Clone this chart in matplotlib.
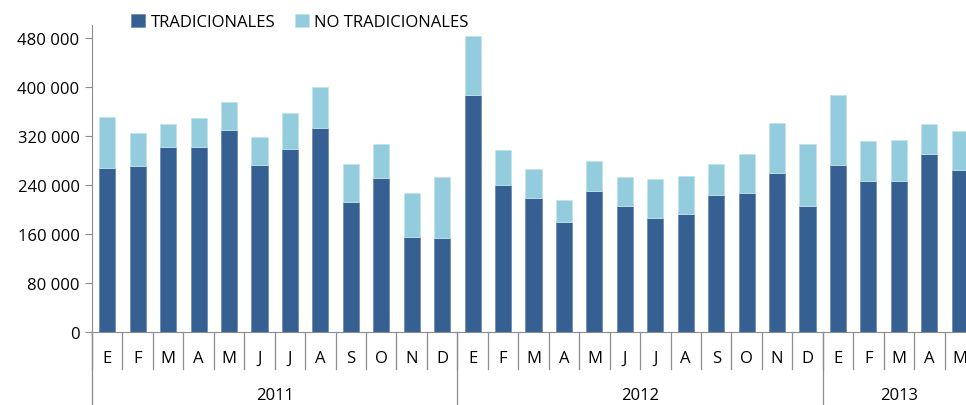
import matplotlib
matplotlib.use('Agg')
import matplotlib.pyplot as plt
import numpy as np

plt.rcParams['font.family'] = ['Open Sans', 'DejaVu Sans']

months = ['E', 'F', 'M', 'A', 'M', 'J', 'J', 'A', 'S', 'O', 'N', 'D',
          'E', 'F', 'M', 'A', 'M', 'J', 'J', 'A', 'S', 'O', 'N', 'D',
          'E', 'F', 'M', 'A', 'M']
years = ['2011', '2012', '2013']
year_len = [12, 12, 5]

tradicionales = [268000, 271500, 302000, 302000, 330000, 273000, 299000, 332500,
                 212800, 252000, 155000, 153500,
                 386400, 240000, 218800, 179000, 230700, 205200, 186100, 193200,
                 223700, 226400, 259600, 205200,
                 273200, 247100, 247100, 290100, 264000]
total = [351500, 325400, 339600, 349400, 375000, 318400, 358100, 400500,
         273700, 306400, 227000, 252500,
         483300, 297100, 266700, 215000, 278600, 252500, 249800, 254700,
         274300, 290600, 341800, 306900,
         386400, 311300, 313500, 339100, 327600]
no_tradicionales = [t - d for t, d in zip(total, tradicionales)]

dark = '#366092'
light = '#93CDDD'
grey = '#8c8c8c'
fs = 12

fig = plt.figure(figsize=(9.66, 4.06), dpi=100)
ax = fig.add_axes([92/966, (406-333)/406, 883/966, 307/406])

x = np.arange(len(months))
w = 0.53
ax.bar(x, tradicionales, w, color=dark, edgecolor='#6f8db3', linewidth=0.6, label='TRADICIONALES')
ax.bar(x, no_tradicionales, w, bottom=tradicionales, color=light, edgecolor='#c3e3ec',
       linewidth=0.6, label='NO TRADICIONALES')

ax.set_xlim(-0.5, len(months) - 0.5)
ax.set_ylim(0, 501000)
yt = np.arange(0, 480001, 80000)
ax.set_yticks(yt)
ax.set_yticklabels(['0' if v == 0 else '{:,}'.format(v).replace(',', ' ') for v in yt],
                   fontsize=fs)
ax.tick_params(axis='y', length=5, color=grey, direction='out', pad=4)
ax.set_xticks([])

for s in ['top', 'right']:
    ax.spines[s].set_visible(False)
ax.spines['left'].set_color(grey)
ax.spines['bottom'].set_color(grey)

tr = ax.get_xaxis_transform()
# month separators and labels
for i in range(len(months) + 1):
    ax.plot([i - 0.5, i - 0.5], [0, -0.12], color=grey, lw=0.9, transform=tr, clip_on=False)
for i, m in enumerate(months):
    ax.text(i, -0.085, m, transform=tr, ha='center', va='center', fontsize=fs)

# year separators and labels
start = 0
ax.plot([-0.5, -0.5], [0, -0.3], color=grey, lw=0.9, transform=tr, clip_on=False)
for yr, n in zip(years, year_len):
    ax.plot([start + n - 0.5] * 2, [0, -0.3], color=grey, lw=0.9, transform=tr, clip_on=False)
    ax.text(start + (n - 1) / 2, -0.205, yr, transform=tr, ha='center', va='center', fontsize=fs)
    start += n

fig.legend(loc='center', bbox_to_anchor=(300/966, 1 - 23/406), ncol=2, frameon=False,
           fontsize=fs, handlelength=0.85, handleheight=0.85, handletextpad=0.3,
           columnspacing=1.2, borderaxespad=0)

plt.savefig('out.png', dpi=100)
